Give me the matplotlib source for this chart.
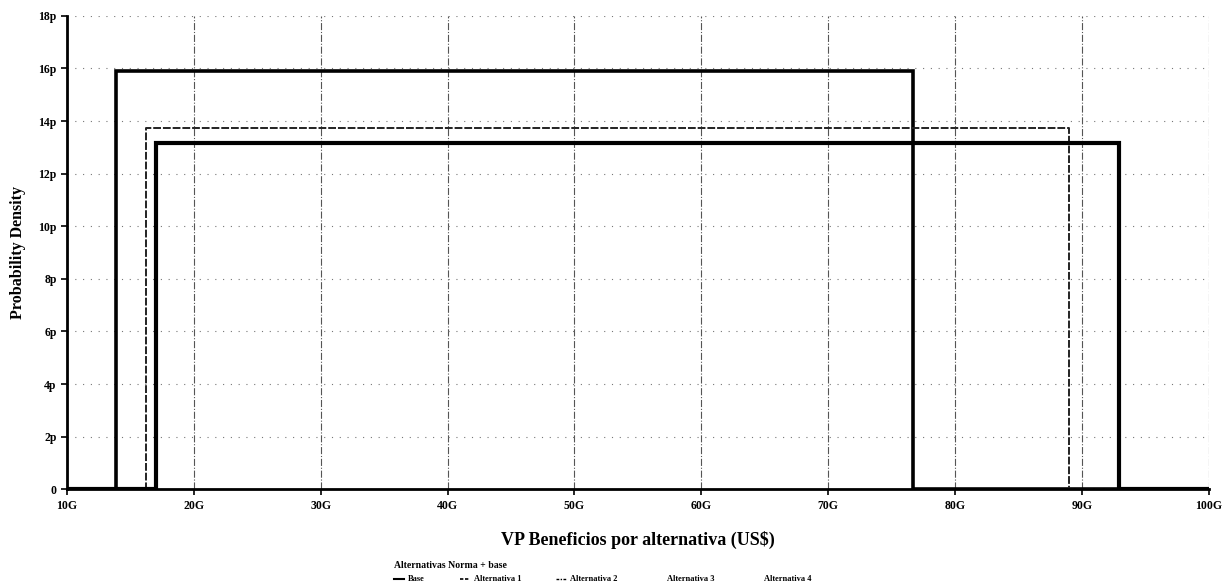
import matplotlib
matplotlib.use("Agg")
import matplotlib.pyplot as plt
from matplotlib.lines import Line2D

# Uniform distributions (x in G US$, density in p)
names = ["Base", "Alternativa 1", "Alternativa 2"]
lows = [13.85, 16.26, 16.99]
highs = [76.66, 89.0, 92.92]
heights = [15.92, 13.75, 13.17]

x_ticks = [10, 20, 30, 40, 50, 60, 70, 80, 90, 100]
x_labels = ["10G", "20G", "30G", "40G", "50G", "60G", "70G", "80G", "90G", "100G"]
y_ticks = [0, 2, 4, 6, 8, 10, 12, 14, 16, 18]
y_labels = ["0", "2p", "4p", "6p", "8p", "10p", "12p", "14p", "16p", "18p"]
legend_names = ["Base", "Alternativa 1", "Alternativa 2", "Alternativa 3", "Alternativa 4"]

plt.rcParams["font.family"] = ["Liberation Serif", "DejaVu Serif"]
plt.rcParams["font.weight"] = "bold"

fig = plt.figure(figsize=(12.25, 5.86), dpi=100)
ax = fig.add_axes([0.0547, 0.165, 0.932, 0.808])

styles = [
    dict(color="black", lw=2.6, ls="-"),
    dict(color="#222222", lw=1.4, ls=(0, (4, 1))),
    dict(color="black", lw=3.0, ls="-"),
]

x0, x1 = x_ticks[0], x_ticks[-1]
for lo, hi, h, st in zip(lows, highs, heights, styles):
    xs = [x0, lo, lo, hi, hi, x1]
    ys = [0, 0, h, h, 0, 0]
    ax.plot(xs, ys, solid_joinstyle="miter", **st)

ax.set_xlim(x0, x1)
ax.set_ylim(0, 18)
ax.set_xticks(x_ticks)
ax.set_xticklabels(x_labels, fontsize=8.5, fontweight="bold")
ax.set_yticks(y_ticks)
ax.set_yticklabels(y_labels, fontsize=8.5, fontweight="bold")
ax.tick_params(direction="out", length=4, width=1.2)

ax.xaxis.grid(True, color="#555555", lw=0.8, ls="-.")
ax.yaxis.grid(True, color="#777777", lw=0.8, ls=(0, (1, 6)))
ax.set_axisbelow(True)

ax.spines["top"].set_visible(False)
ax.spines["right"].set_visible(False)
ax.spines["left"].set_linewidth(2)
ax.spines["bottom"].set_linewidth(2)

ax.set_xlabel("VP Beneficios por alternativa (US$)", fontsize=13, fontweight="bold", labelpad=14)
ax.set_ylabel("Probability Density", fontsize=11.5, fontweight="bold", labelpad=9)

handles = [
    Line2D([], [], color="black", lw=1.5, ls="-"),
    Line2D([], [], color="black", lw=1.2, ls=(0, (2, 1))),
    Line2D([], [], color="black", lw=1.0, ls=(0, (2, 1, 1, 1))),
    Line2D([], [], color="white", lw=1.0),
    Line2D([], [], color="white", lw=1.0),
]
leg = fig.legend(handles, legend_names, loc="upper left", bbox_to_anchor=(0.318, 0.05),
                 ncol=5, frameon=False, fontsize=6, title="Alternativas Norma + base",
                 title_fontsize=7, handlelength=1.2, handletextpad=0.5,
                 columnspacing=4.2, borderpad=0, labelspacing=0.2)
leg._legend_box.align = "left"
leg._legend_box.sep = 4

fig.savefig("out.png", dpi=100)
